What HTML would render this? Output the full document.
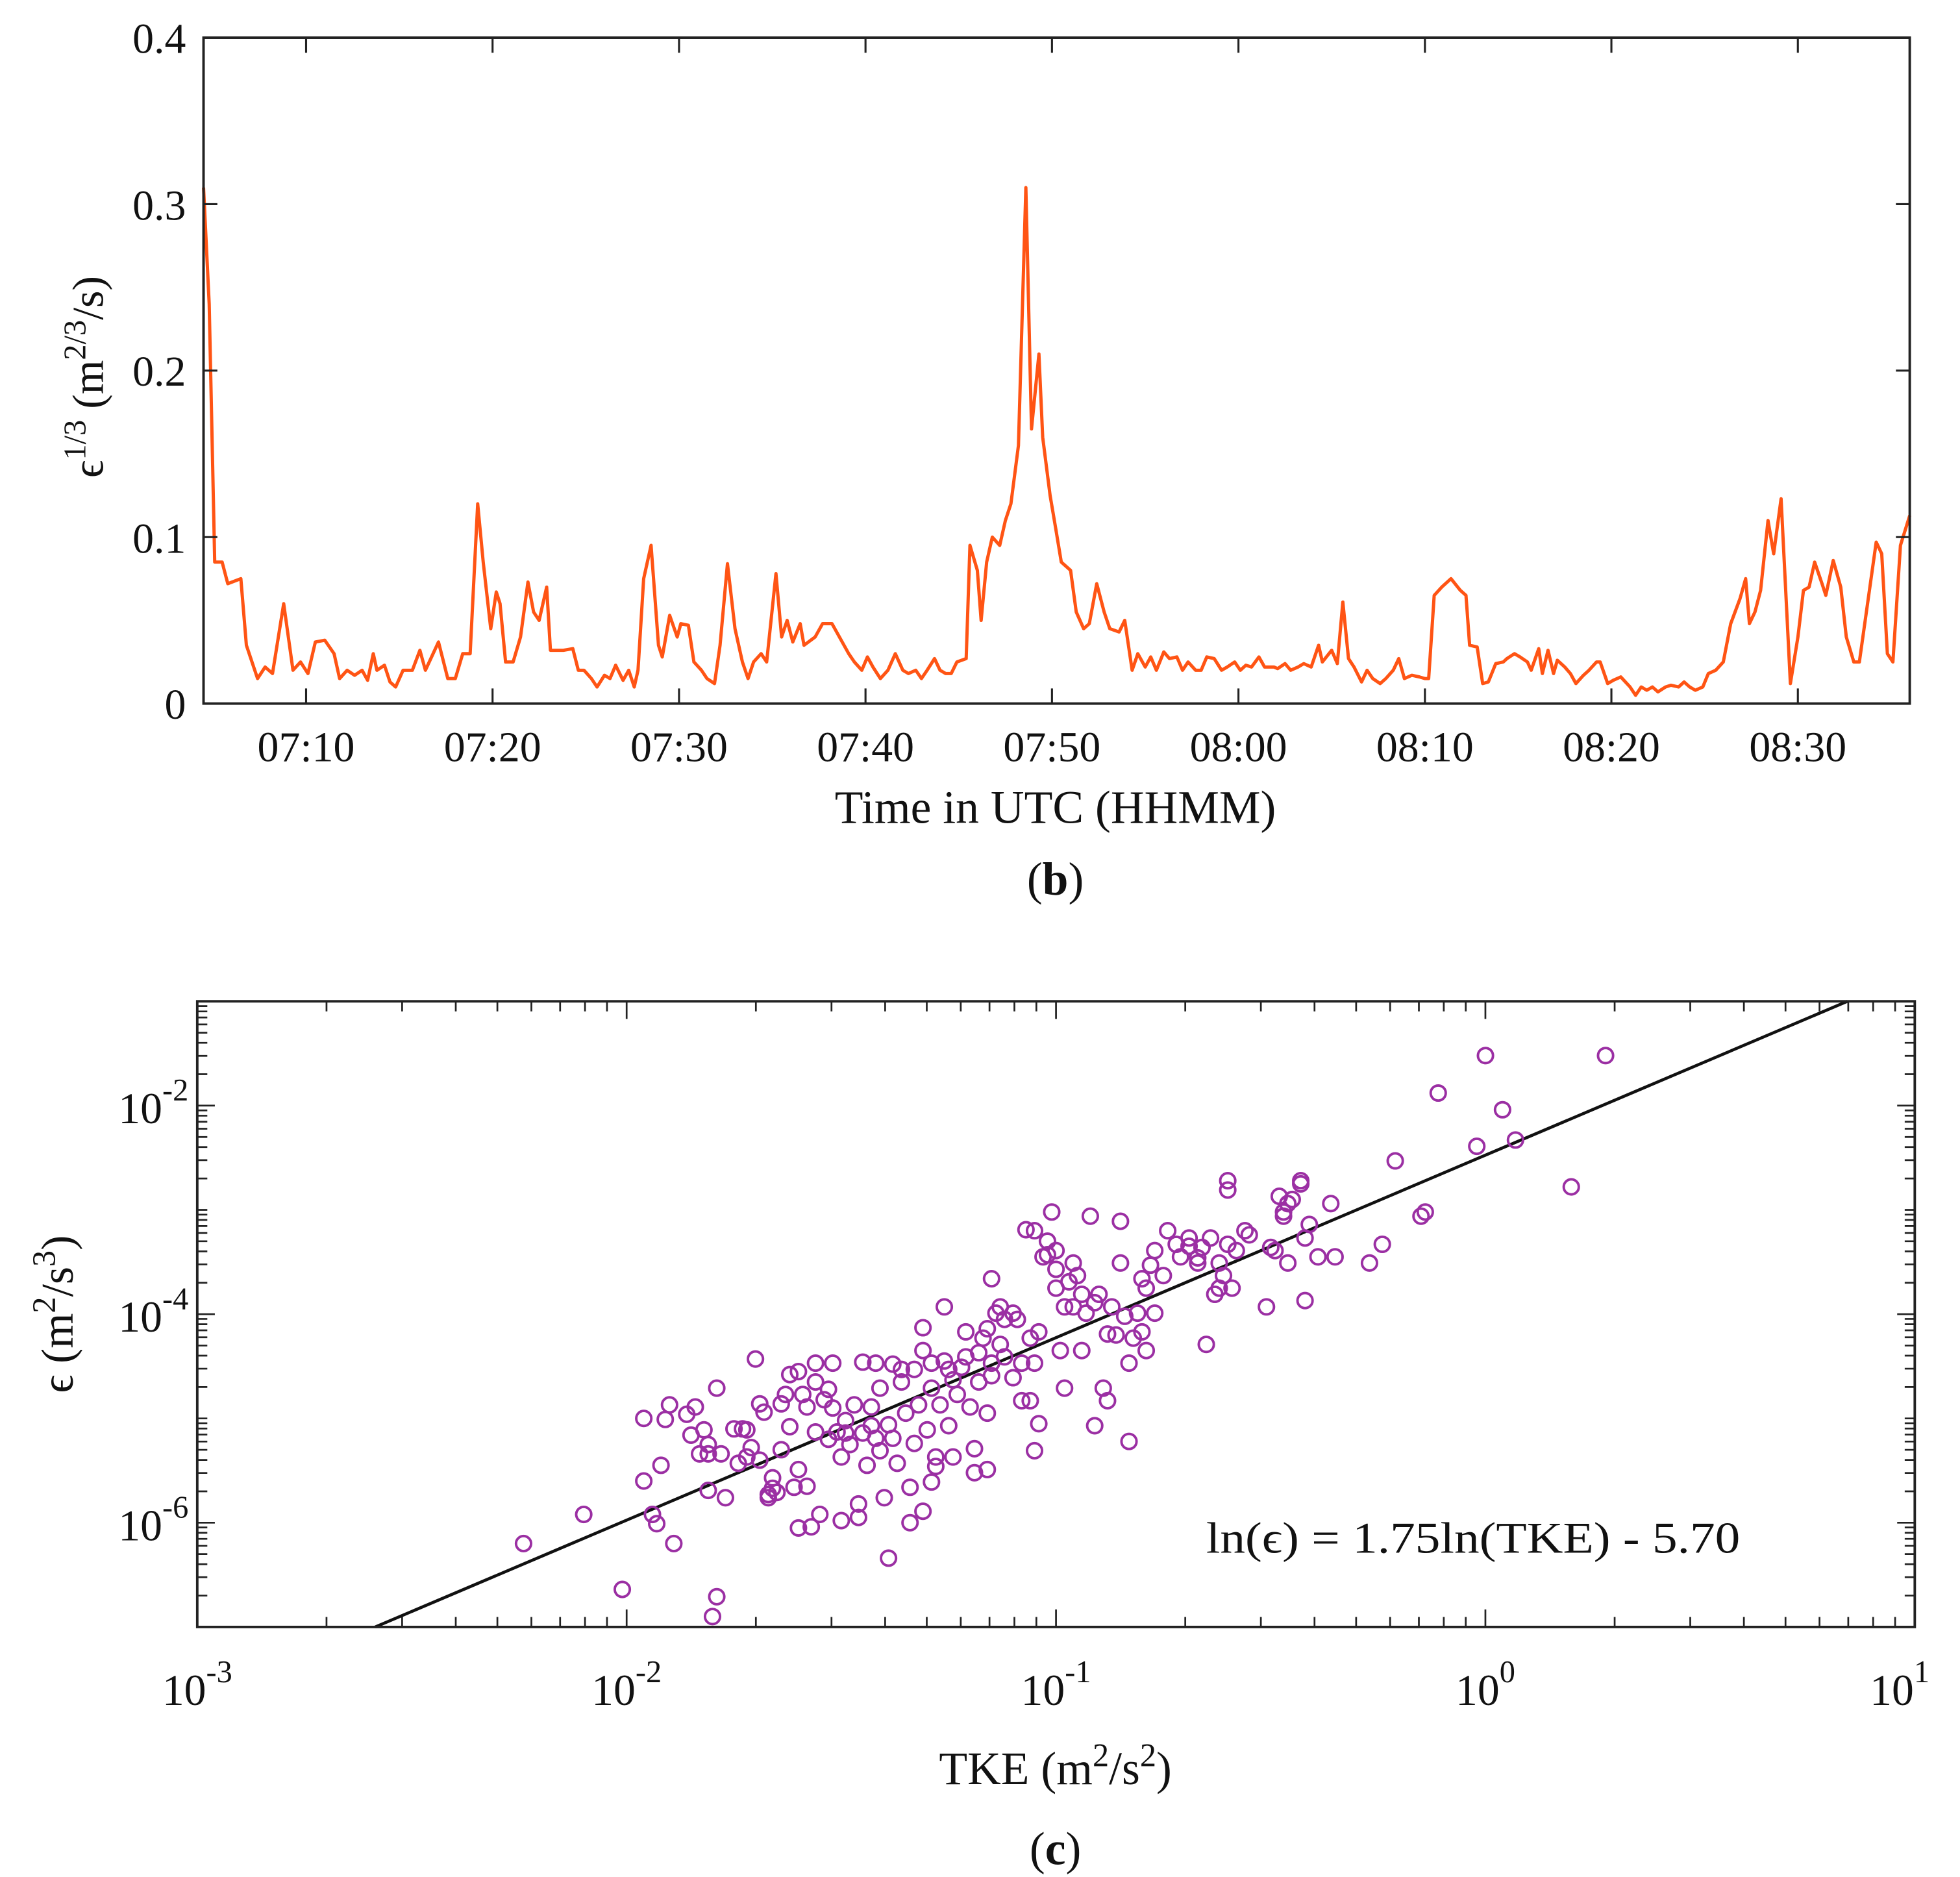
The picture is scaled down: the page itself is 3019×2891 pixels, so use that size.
<!DOCTYPE html>
<html><head><meta charset="utf-8"><style>
html,body{margin:0;padding:0;background:#fff}
svg{display:block}
text{font-family:"Liberation Serif",serif;fill:#111}
</style></head><body>
<svg id="fig" width="3019" height="2891" viewBox="0 0 1560 1494" preserveAspectRatio="none" xmlns="http://www.w3.org/2000/svg">
<rect width="1560" height="1494" fill="#fff"/>
<g id="topchart"></g>
<g id="botchart"></g>
<text x="148" y="42" text-anchor="end" font-size="34">0.4</text>
<text x="148" y="175" text-anchor="end" font-size="34">0.3</text>
<text x="148" y="307" text-anchor="end" font-size="34">0.2</text>
<text x="148" y="440" text-anchor="end" font-size="34">0.1</text>
<text x="148" y="572" text-anchor="end" font-size="34">0</text>
<text transform="translate(82,300) rotate(-90)" text-anchor="middle" font-size="35">ϵ<tspan dy="-14" font-size="25">1/3</tspan><tspan dy="14"> (m</tspan><tspan dy="-14" font-size="25">2/3</tspan><tspan dy="14">/s)</tspan></text>
<text x="840" y="655" text-anchor="middle" font-size="37">Time in UTC (HHMM)</text>
<text x="840" y="712" text-anchor="middle" font-size="37">(<tspan font-weight="bold">b</tspan>)</text>
<text transform="translate(58,1046) rotate(-90)" text-anchor="middle" font-size="36">ϵ (m<tspan dy="-14" font-size="26">2</tspan><tspan dy="14">/s</tspan><tspan dy="-14" font-size="26">3</tspan><tspan dy="14">)</tspan></text>
<text x="840" y="1420" text-anchor="middle" font-size="37">TKE (m<tspan dy="-14" font-size="26">2</tspan><tspan dy="14">/s</tspan><tspan dy="-14" font-size="26">2</tspan><tspan dy="14">)</tspan></text>
<text x="840" y="1484" text-anchor="middle" font-size="37">(<tspan font-weight="bold">c</tspan>)</text>
<text x="960" y="1236" font-size="35" textLength="425" lengthAdjust="spacingAndGlyphs">ln(ϵ) = 1.75ln(TKE) - 5.70</text>
</svg>
<script>
// ---- top chart data (minutes after 07:00, eps^(1/3)) ----
const tMinutes=[4.5,4.8,5.1,5.5,5.8,6.5,6.8,7.4,7.8,8.2,8.8,9.3,9.7,10.1,10.5,11.0,11.5,11.8,12.2,12.6,13.0,13.3,13.6,13.8,14.2,14.5,14.8,15.2,15.7,16.1,16.4,17.1,17.6,18.0,18.4,18.8,19.2,19.5,19.9,20.2,20.4,20.7,21.1,21.5,21.9,22.2,22.5,22.9,23.1,23.8,24.3,24.6,24.9,25.3,25.6,26.0,26.3,26.6,27.0,27.3,27.6,27.8,28.1,28.5,28.9,29.1,29.5,29.9,30.1,30.5,30.8,31.2,31.5,31.9,32.2,32.6,33.0,33.4,33.7,34.0,34.4,34.7,35.2,35.5,35.8,36.1,36.5,36.7,37.3,37.7,38.2,38.6,39.1,39.4,39.8,40.1,40.4,40.8,41.2,41.6,42.0,42.3,42.7,43.0,43.3,43.7,44.0,44.3,44.6,44.9,45.4,45.6,46.0,46.2,46.5,46.8,47.2,47.5,47.8,48.2,48.6,48.9,49.3,49.5,49.9,50.2,50.5,51.0,51.3,51.7,52.0,52.4,52.8,53.1,53.6,53.9,54.3,54.6,55.0,55.3,55.6,56.0,56.3,56.7,57.0,57.3,57.7,58.0,58.3,58.7,59.1,59.4,59.8,60.1,60.4,60.7,61.1,61.4,61.9,62.1,62.5,62.8,63.2,63.5,63.9,64.3,64.5,65.0,65.3,65.6,65.9,66.2,66.6,66.9,67.2,67.6,67.9,68.3,68.6,68.9,69.3,69.7,70.0,70.2,70.5,70.9,71.4,71.9,72.2,72.4,72.8,73.1,73.4,73.8,74.2,74.4,74.8,75.1,75.5,75.7,76.1,76.3,76.6,76.9,77.1,77.5,77.8,78.1,78.5,78.8,79.2,79.4,79.8,80.1,80.5,81.0,81.3,81.6,81.9,82.2,82.5,82.9,83.2,83.6,83.9,84.2,84.5,84.9,85.2,85.6,86.0,86.4,86.9,87.2,87.4,87.7,88.0,88.4,88.7,89.1,89.6,90.0,90.3,90.6,90.9,91.3,91.5,91.9,92.3,92.6,93.0,93.3,94.2,94.5,94.8,95.1,95.5,96.0];
const epsThird=[0.31,0.24,0.085,0.085,0.072,0.075,0.035,0.015,0.022,0.018,0.06,0.02,0.025,0.018,0.037,0.038,0.03,0.015,0.02,0.017,0.02,0.014,0.03,0.02,0.023,0.013,0.01,0.02,0.02,0.032,0.02,0.037,0.015,0.015,0.03,0.03,0.12,0.085,0.045,0.067,0.06,0.025,0.025,0.04,0.073,0.055,0.05,0.07,0.032,0.032,0.033,0.02,0.02,0.015,0.01,0.017,0.015,0.023,0.014,0.02,0.01,0.02,0.075,0.095,0.035,0.028,0.053,0.04,0.048,0.047,0.025,0.02,0.015,0.012,0.035,0.084,0.045,0.025,0.015,0.025,0.03,0.025,0.078,0.04,0.05,0.037,0.048,0.035,0.04,0.048,0.048,0.04,0.03,0.025,0.02,0.028,0.022,0.015,0.02,0.03,0.02,0.018,0.02,0.015,0.02,0.027,0.02,0.018,0.018,0.025,0.027,0.095,0.08,0.05,0.085,0.1,0.095,0.11,0.12,0.155,0.31,0.165,0.21,0.16,0.125,0.105,0.085,0.08,0.055,0.045,0.048,0.072,0.055,0.045,0.043,0.05,0.02,0.03,0.022,0.028,0.02,0.031,0.027,0.028,0.02,0.025,0.02,0.02,0.028,0.027,0.02,0.022,0.025,0.02,0.023,0.022,0.028,0.022,0.022,0.021,0.024,0.02,0.022,0.024,0.022,0.035,0.025,0.032,0.024,0.061,0.027,0.022,0.013,0.02,0.015,0.012,0.015,0.02,0.027,0.015,0.017,0.016,0.015,0.015,0.065,0.07,0.075,0.068,0.065,0.035,0.034,0.012,0.013,0.024,0.025,0.027,0.03,0.028,0.025,0.02,0.033,0.018,0.032,0.018,0.026,0.022,0.018,0.012,0.017,0.02,0.025,0.025,0.012,0.014,0.016,0.01,0.005,0.01,0.008,0.01,0.007,0.01,0.011,0.01,0.013,0.01,0.008,0.01,0.018,0.02,0.025,0.048,0.063,0.075,0.048,0.055,0.068,0.11,0.09,0.123,0.012,0.04,0.068,0.07,0.085,0.072,0.065,0.086,0.07,0.04,0.025,0.025,0.097,0.09,0.03,0.025,0.095,0.113];
const topYTicks=[0,0.1,0.2,0.3,0.4];
const topXTickMinutes=[10,20,30,40,50,60,70,80,90];
const topXTickLabels=["07:10","07:20","07:30","07:40","07:50","08:00","08:10","08:20","08:30"];

// ---- bottom chart data (log10 values) ----
const logTKE=[-2.24,-2.10,-2.01,-1.96,-1.96,-1.94,-1.93,-1.92,-1.90,-1.91,-1.89,-1.86,-1.85,-1.84,-1.83,-1.82,-1.81,-1.81,-1.79,-1.80,-1.79,-1.78,-1.77,-1.75,-1.74,-1.73,-1.72,-1.71,-1.70,-1.69,-1.69,-1.68,-1.67,-1.66,-1.66,-1.65,-1.64,-1.64,-1.63,-1.62,-1.62,-1.61,-1.60,-1.60,-1.60,-1.59,-1.58,-1.58,-1.57,-1.56,-1.56,-1.56,-1.55,-1.54,-1.53,-1.53,-1.52,-1.52,-1.51,-1.50,-1.50,-1.49,-1.49,-1.48,-1.47,-1.46,-1.46,-1.45,-1.45,-1.44,-1.43,-1.43,-1.42,-1.42,-1.41,-1.41,-1.40,-1.39,-1.39,-1.38,-1.38,-1.37,-1.36,-1.36,-1.35,-1.34,-1.34,-1.33,-1.33,-1.32,-1.31,-1.31,-1.31,-1.30,-1.29,-1.29,-1.28,-1.28,-1.27,-1.26,-1.26,-1.25,-1.25,-1.24,-1.24,-1.23,-1.22,-1.21,-1.21,-1.20,-1.19,-1.19,-1.18,-1.18,-1.17,-1.16,-1.16,-1.16,-1.15,-1.15,-1.14,-1.13,-1.13,-1.12,-1.12,-1.10,-1.10,-1.09,-1.08,-1.08,-1.07,-1.06,-1.06,-1.05,-1.05,-1.04,-1.04,-1.03,-1.02,-1.02,-1.01,-1.00,-1.00,-0.99,-0.98,-0.98,-0.97,-0.96,-0.95,-0.94,-0.94,-0.93,-0.92,-0.91,-0.91,-0.90,-0.89,-0.88,-0.88,-0.87,-0.86,-0.85,-0.85,-0.84,-0.83,-0.82,-0.81,-0.80,-0.80,-0.79,-0.79,-0.78,-0.77,-0.77,-0.75,-0.74,-0.72,-0.71,-0.69,-0.69,-0.67,-0.67,-0.66,-0.65,-0.64,-0.63,-0.62,-0.62,-0.61,-0.60,-0.60,-0.60,-0.58,-0.56,-0.55,-0.51,-0.50,-0.49,-0.48,-0.47,-0.47,-0.46,-0.46,-0.45,-0.43,-0.43,-0.42,-0.41,-0.39,-0.36,-0.35,-0.27,-0.24,-0.21,-0.15,-0.14,-0.11,-0.02,0.00,0.04,0.07,0.20,0.28,-0.42,-0.59,-0.96,-1.00,-0.83,-1.05,-1.15,-1.29,-1.67,-1.72,-1.81];
const logEps=[-6.20,-5.92,-6.64,-5.00,-5.60,-5.92,-6.01,-5.45,-4.87,-5.01,-6.20,-4.96,-5.16,-4.89,-5.34,-5.11,-5.34,-5.69,-6.71,-6.90,-4.71,-5.34,-5.76,-5.10,-5.43,-5.10,-5.11,-5.28,-4.43,-5.40,-4.86,-4.94,-5.76,-5.67,-5.57,-5.71,-5.30,-4.86,-4.77,-4.58,-5.08,-5.66,-4.55,-5.49,-6.05,-4.77,-4.89,-5.65,-6.04,-4.65,-4.47,-5.13,-5.92,-4.82,-4.72,-5.20,-4.47,-4.90,-5.13,-5.98,-5.37,-5.02,-5.14,-5.25,-4.87,-5.95,-5.82,-5.14,-4.46,-5.45,-4.89,-5.07,-4.47,-5.19,-5.31,-4.71,-5.76,-5.06,-6.34,-5.19,-4.48,-5.43,-4.65,-4.53,-4.95,-5.66,-6.00,-5.24,-4.53,-4.87,-4.13,-5.89,-4.35,-5.11,-4.47,-4.71,-5.46,-5.37,-4.87,-4.45,-3.93,-5.07,-4.53,-4.63,-5.37,-4.77,-4.51,-4.17,-4.41,-4.89,-5.52,-5.29,-4.65,-4.37,-4.23,-4.95,-5.49,-4.14,-3.66,-4.59,-3.99,-4.29,-3.93,-4.05,-4.41,-4.61,-3.99,-4.05,-4.83,-4.47,-3.19,-4.83,-4.23,-5.31,-3.20,-4.17,-5.05,-3.45,-3.30,-3.43,-3.02,-3.57,-3.75,-4.35,-3.93,-4.71,-3.69,-3.93,-3.63,-4.35,-3.81,-3.99,-3.06,-5.07,-3.89,-3.81,-4.71,-4.19,-4.83,-3.93,-4.20,-3.51,-3.11,-4.02,-5.22,-4.23,-3.99,-4.17,-3.66,-4.35,-3.75,-3.53,-3.39,-3.99,-3.63,-3.20,-3.33,-3.45,-3.27,-3.35,-3.46,-3.51,-3.36,-4.29,-3.27,-3.81,-3.75,-3.51,-3.63,-2.81,-2.72,-3.33,-3.39,-3.20,-3.24,-3.93,-3.36,-3.39,-2.87,-3.06,-3.02,-3.51,-2.94,-2.90,-2.72,-2.75,-3.27,-3.14,-3.45,-2.94,-3.45,-3.51,-3.33,-2.53,-3.06,-3.02,-1.88,-2.39,-1.52,-2.04,-2.33,-2.78,-1.52,-3.87,-3.75,-3.51,-3.39,-4.47,-4.47,-4.47,-5.61,-5.73,-5.37,-5.25];
const fitSlope=1.75, fitIntercept=-5.70;
const botXDecades=[-3,-2,-1,0,1];
const botYDecades=[-6,-4,-2];

const NS="http://www.w3.org/2000/svg";
function mk(parent,tag,attrs){const e=document.createElementNS(NS,tag);for(const k in attrs)e.setAttribute(k,attrs[k]);parent.appendChild(e);return e;}

// ---- top chart ----
const topG=document.getElementById('topchart');
const TX0=162,TX1=1520,TY0=30,TY1=560,TMIN=4.5,TMAX=96.0;
const tx=m=>TX0+(m-TMIN)/(TMAX-TMIN)*(TX1-TX0);
const ty=v=>TY1-v/0.4*(TY1-TY0);
let d='';
const nT=Math.min(tMinutes.length,epsThird.length);
for(let i=0;i<nT;i++){d+=(i?'L':'M')+tx(tMinutes[i]).toFixed(1)+','+ty(epsThird[i]).toFixed(1);}
const ln=mk(topG,'path',{d:d,fill:'none',stroke:'#ff5414','stroke-width':2.6,'stroke-linejoin':'round'});


topYTicks.forEach(v=>{
  const y=ty(v);
  const a=mk(topG,'path',{d:`M${TX0},${y}h11M${TX1},${y}h-11`,stroke:'#222','stroke-width':1.6});
  
  
});
topXTickMinutes.forEach((m,i)=>{
  const x=tx(m);
  const a=mk(topG,'path',{d:`M${x},${TY1}v-12M${x},${TY0}v12`,stroke:'#222','stroke-width':1.6});
  
  
  const t=mk(topG,'text',{x:x,y:606,'text-anchor':'middle','font-size':34});
  t.textContent=topXTickLabels[i];
  
  
});
const fr=mk(topG,'rect',{x:TX0,y:TY0,width:TX1-TX0,height:TY1-TY0,fill:'none',stroke:'#222','stroke-width':2});



// ---- bottom chart ----
const botG=document.getElementById('botchart');
const BX0=157,BX1=1524,BY0=797,BY1=1295;
const bx=L=>BX0+(L+3)/4*(BX1-BX0);
const by=L=>BY0+(-1-L)/6*(BY1-BY0);
for(let dcd=-3;dcd<1;dcd++){for(let k=1;k<10;k++){const L=dcd+Math.log10(k);const x=bx(L);const len=k===1?14:8;
  const a=mk(botG,'path',{d:`M${x},${BY1}v-${len}M${x},${BY0}v${len}`,stroke:'#222','stroke-width':1.4});
  
  }}
for(let dcd=-7;dcd<-1;dcd++){for(let k=1;k<10;k++){const L=dcd+Math.log10(k);const y=by(L);const len=(k===1&&dcd%2===0)?14:8;
  const a=mk(botG,'path',{d:`M${BX0},${y}h${len}M${BX1},${y}h-${len}`,stroke:'#222','stroke-width':1.4});
  
  }}
botXDecades.forEach(p=>{
  const t=mk(botG,'text',{x:bx(p)+(p===1?-12:0),y:1357,'text-anchor':'middle','font-size':35});
  t.innerHTML=`10<tspan dy="-18" font-size="25">${p}</tspan>`;
  
  
});
botYDecades.forEach(p=>{
  const t=mk(botG,'text',{x:150,y:by(p)+14,'text-anchor':'end','font-size':35});
  t.innerHTML=`10<tspan dy="-18" font-size="25">${p}</tspan>`;
  
  
});
const c0=fitIntercept/Math.LN10;
const Lstart=(-7-c0)/fitSlope, Lend=(-1-c0)/fitSlope;
const fl=mk(botG,'line',{x1:bx(Lstart),y1:by(-7),x2:bx(Lend),y2:by(-1),stroke:'#111','stroke-width':2.4});


const nS=Math.min(logTKE.length,logEps.length);
for(let i=0;i<nS;i++){
  const c=mk(botG,'circle',{cx:bx(logTKE[i]).toFixed(1),cy:by(logEps[i]).toFixed(1),r:6,fill:'none',stroke:'#9b2fa3','stroke-width':2});
  
  
}
const fr2=mk(botG,'rect',{x:BX0,y:BY0,width:BX1-BX0,height:BY1-BY0,fill:'none',stroke:'#222','stroke-width':2});


</script>
</body></html>
